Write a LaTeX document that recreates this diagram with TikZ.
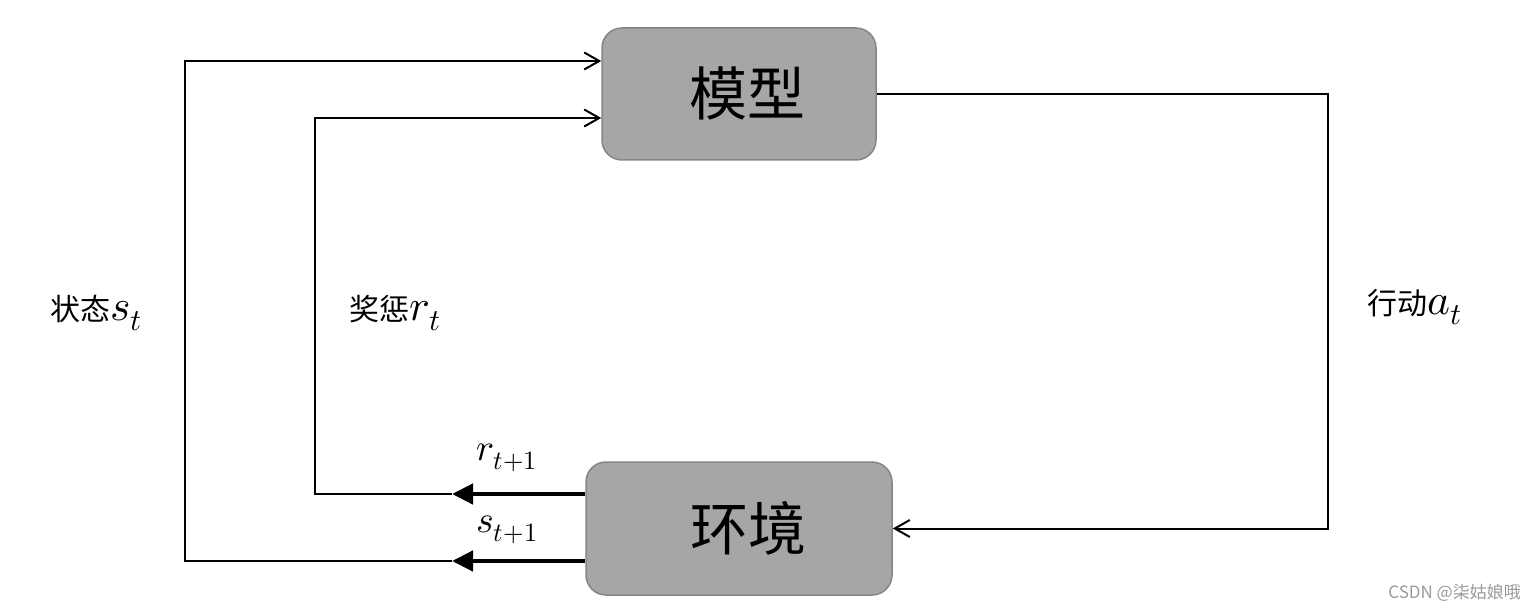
\documentclass[tikz,border=0pt]{standalone}
\usepackage{fontspec}
\usepackage{unicode-math}
\setmainfont{Noto Sans CJK SC}
\setmathfont{Latin Modern Math}[Scale=1.45]
\newfontfamily\cjk{Noto Sans CJK SC}
\usetikzlibrary{arrows.meta}
\definecolor{boxfill}{HTML}{A6A6A6}
\definecolor{boxline}{HTML}{858585}
\definecolor{wmark}{HTML}{9A9A9A}
\tikzset{
  blockbox/.style={rounded corners=20pt, fill=boxfill, draw=boxline, line width=1.5pt, inner sep=0pt, font=\cjk\fontsize{58}{64}\selectfont},
  thinline/.style={line width=2pt, black},
  thickline/.style={line width=4.5pt, black},
  inarrow/.style={thinline, -{Straight Barb[length=15pt,width=17pt]}},
  outarrow/.style={thickline, -{Triangle[length=21pt,width=20pt]}},
  lbl/.style={font=\cjk\fontsize{30}{36}\selectfont, inner sep=0pt},
  sublbl/.style={font=\cjk\fontsize{26}{30}\selectfont, inner sep=0pt},
}
\begin{document}
\begin{tikzpicture}[x=1pt,y=-1pt]
\useasboundingbox (0,0) rectangle (1536,612);
\node[blockbox, minimum width=274pt, minimum height=132pt] (model) at (739,94) {\hspace*{16pt}\raisebox{5pt}{模型}};
\node[blockbox, minimum width=306pt, minimum height=133pt] (env) at (739,528.5) {\hspace*{18pt}\raisebox{6pt}{环境}};

% action
\coordinate (acorner) at (1328,94);
\draw[inarrow] (model.east) -- (acorner) |- (env.east);

% reward
\coordinate (rtip) at (452,494);
\coordinate (rcorner) at (315,494);
\coordinate (rin) at (0,118);
\draw[outarrow] (rtip -| env.west) -- (rtip);
\draw[inarrow] (rtip) -- (rcorner) |- (model.west |- rin);

% state
\coordinate (stip) at (452,561);
\coordinate (scorner) at (185,561);
\coordinate (sin) at (0,61);
\draw[outarrow] (stip -| env.west) -- (stip);
\draw[inarrow] (stip) -- (scorner) |- (model.west |- sin);

% labels
\node[lbl] (lstate) at (96,313) {状态$s_t$};
\node[lbl] (lreward) at (395,313) {奖惩$r_t$};
\node[lbl] (laction) at (1415,307) {行动$a_t$};
\node[sublbl] (lr1) at (507,458) {$r_{t+1}$};
\node[sublbl] (ls1) at (507,530) {$s_{t+1}$};

\node[font=\cjk\fontsize{17}{20}\selectfont, text=wmark, inner sep=0pt, anchor=east] (wm) at (1521,593) {CSDN @柒姑娘哦};
\end{tikzpicture}
\end{document}
